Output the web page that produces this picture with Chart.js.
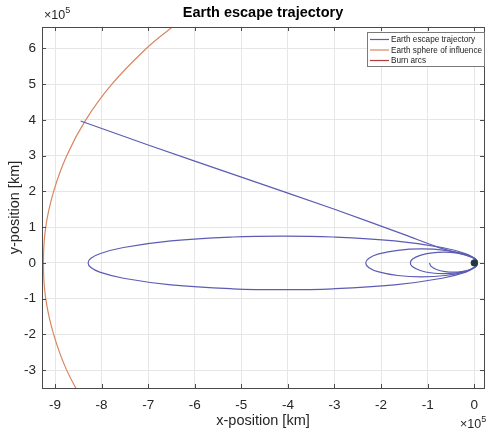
<!DOCTYPE html>
<html>
<head>
<meta charset="utf-8">
<script src="https://cdn.jsdelivr.net/npm/chart.js@4.4.1/dist/chart.umd.min.js"></script>
<style>
  html, body { margin: 0; padding: 0; background: #fff; }
</style>
</head>
<body>
<canvas id="graficoOrbita" width="489" height="436"></canvas>
<script>
// valores em unidades de 10^5 km
const orbitaInicialX = [-0.96, -0.93, -0.81, -0.62, -0.445, -0.27, -0.08, 0.02, 0.06, 0.07];
const orbitaInicialY = [0, -0.089, -0.184, -0.244, -0.26, -0.244, -0.184, -0.11, -0.045, 0];

const orbita1X = [0.07, 0.059, 0.027, -0.14, -0.40, -0.65, -0.90, -1.16, -1.33, -1.37, -1.33, -1.16, -0.90, -0.65, -0.40, -0.14, 0.027, 0.059, 0.07];
const orbita1Y = [0, 0.052, 0.103, 0.212, 0.282, 0.30, 0.282, 0.212, 0.103, 0, -0.103, -0.212, -0.282, -0.30, -0.282, -0.212, -0.103, -0.052, 0];

const orbita2X = [0.07, 0.052, -0.002, -0.21, -0.62, -1.13, -1.64, -2.05, -2.26, -2.33, -2.26, -2.05, -1.64, -1.13, -0.62, -0.21, -0.002, 0.052, 0.07];
const orbita2Y = [0, 0.068, 0.133, 0.251, 0.353, 0.39, 0.353, 0.251, 0.133, 0, -0.133, -0.251, -0.353, -0.39, -0.353, -0.251, -0.133, -0.068, 0];

const orbita3X = [0.07, 0.054, 0.007, -0.18, -0.69, -1.71, -3.03, -4.11, -5.19, -6.51, -7.53, -8.04, -8.23, -8.29, -8.23, -8.04, -7.53, -6.51, -5.19, -4.11, -3.03, -1.71, -0.69, -0.18, 0.007, 0.054, 0.07];
const orbita3Y = [0, 0.065, 0.130, 0.257, 0.430, 0.614, 0.724, 0.75, 0.724, 0.614, 0.430, 0.257, 0.130, 0, -0.130, -0.257, -0.430, -0.614, -0.724, -0.75, -0.724, -0.614, -0.430, -0.257, -0.130, -0.065, 0];

const fugaX = [0.07, 0.05, 0.0, -0.15, -0.4, -0.8, -1.5, -3.0, -5.0, -7.0, -8.45];
const fugaY = [0, 0.07, 0.13, 0.2, 0.29, 0.45, 0.79, 1.50, 2.40, 3.30, 3.97];

const esferaX = [-6.07, -6.48, -7.04, -7.78, -8.34, -8.75, -9.03, -9.20, -9.25, -9.20, -9.03, -8.75, -8.34];
const esferaY = [7, 6.6, 6, 5, 4, 3, 2, 1, 0, -1, -2, -3, -4];

const queimaX = [0.04, 0.065, 0.07, 0.065, 0.04];
const queimaY = [-0.08, -0.04, 0, 0.04, 0.08];

const terraX = [0];
const terraY = [0];

const legendas = ["Earth escape trajectory", "Earth sphere of influence", "Burn arcs"];
const corTrajetoria = "#5c5cb4";
const corEsfera = "#d9865f";
const corQueima = "#b23a3a";
const fonte = "'Liberation Sans', Arial, sans-serif";

function pontos(xs, ys) {
  return xs.map((x, i) => ({ x: x, y: ys[i] }));
}

function linha(label, xs, ys, cor, tensao) {
  return {
    label: label,
    data: pontos(xs, ys),
    showLine: true,
    borderColor: cor,
    borderWidth: 1.2,
    pointRadius: 0,
    tension: tensao,
    fill: false,
  };
}

const molduraPlugin = {
  id: "moldura",
  afterDraw(chart) {
    const ctx = chart.ctx;
    const a = chart.chartArea;
    const sx = chart.scales.x;
    const sy = chart.scales.y;
    ctx.save();
    ctx.strokeStyle = "#4a4a4a";
    ctx.lineWidth = 1;
    ctx.beginPath();
    sx.ticks.forEach((t) => {
      const px = Math.round(sx.getPixelForValue(t.value)) + 0.5;
      ctx.moveTo(px, a.bottom); ctx.lineTo(px, a.bottom - 4);
      ctx.moveTo(px, a.top); ctx.lineTo(px, a.top + 4);
    });
    sy.ticks.forEach((t) => {
      const py = Math.round(sy.getPixelForValue(t.value)) + 0.5;
      ctx.moveTo(a.left, py); ctx.lineTo(a.left + 4, py);
      ctx.moveTo(a.right, py); ctx.lineTo(a.right - 4, py);
    });
    ctx.stroke();
    ctx.strokeRect(Math.round(a.left) + 0.5, Math.round(a.top) + 0.5, Math.round(a.right - a.left), Math.round(a.bottom - a.top));

    // titulo
    ctx.fillStyle = "#000";
    ctx.font = "bold 14.5px " + fonte;
    ctx.textAlign = "center";
    ctx.textBaseline = "middle";
    ctx.fillText("Earth escape trajectory", (a.left + a.right) / 2, 13);

    // multiplicadores x10^5
    function multiplicador(x, y) {
      ctx.fillStyle = "#262626";
      ctx.textAlign = "left";
      ctx.textBaseline = "alphabetic";
      ctx.font = "12.5px " + fonte;
      ctx.fillText("\u00d710", x, y);
      const w = ctx.measureText("\u00d710").width;
      ctx.font = "9px " + fonte;
      ctx.fillText("5", x + w, y - 6);
    }
    multiplicador(44, 19);
    multiplicador(460, 428);

    // legenda
    const lx = 367, ly = 32, lw = 117, lh = 34;
    ctx.fillStyle = "#fff";
    ctx.fillRect(lx, ly, lw, lh);
    ctx.strokeStyle = "#7a7a7a";
    ctx.strokeRect(lx + 0.5, ly + 0.5, lw, lh);
    const cores = [corTrajetoria, corEsfera, corQueima];
    ctx.font = "8.2px " + fonte;
    ctx.textBaseline = "middle";
    ctx.textAlign = "left";
    legendas.forEach((txt, i) => {
      const yy = ly + 7.5 + i * 10.5;
      ctx.strokeStyle = cores[i];
      ctx.lineWidth = 1.2;
      ctx.beginPath();
      ctx.moveTo(lx + 3, yy);
      ctx.lineTo(lx + 22, yy);
      ctx.stroke();
      ctx.fillStyle = "#222";
      ctx.fillText(txt, lx + 24, yy + 0.5);
    });
    ctx.restore();
  },
};

const graficoOrbita = new Chart(document.getElementById("graficoOrbita"), {
  type: "scatter",
  data: {
    datasets: [
      {
        label: "Earth",
        data: pontos(terraX, terraY),
        pointRadius: 3.2,
        pointBackgroundColor: "#1d3b3b",
        pointBorderColor: "#1d3b3b",
        showLine: false,
      },
      linha(legendas[2], queimaX, queimaY, corQueima, 0.4),
      linha(legendas[0], fugaX, fugaY, corTrajetoria, 0.3),
      linha(legendas[0], orbita3X, orbita3Y, corTrajetoria, 0.4),
      linha(legendas[0], orbita2X, orbita2Y, corTrajetoria, 0.4),
      linha(legendas[0], orbita1X, orbita1Y, corTrajetoria, 0.4),
      linha(legendas[0], orbitaInicialX, orbitaInicialY, corTrajetoria, 0.4),
      linha(legendas[1], esferaX, esferaY, corEsfera, 0.4),
    ],
  },
  options: {
    responsive: false,
    animation: false,
    layout: { padding: { top: 27, right: 4, left: 0, bottom: 0 } },
    plugins: {
      legend: { display: false },
      title: { display: false },
      tooltip: { enabled: false },
    },
    scales: {
      x: {
        type: "linear",
        min: -9.28,
        max: 0.21,
        afterFit(scale) { scale.height = 48; },
        ticks: {
          stepSize: 1,
          includeBounds: false,
          padding: 9,
          color: "#262626",
          font: { family: fonte, size: 13.5 },
          maxRotation: 0,
        },
        grid: { color: "#e6e6e6", drawTicks: false },
        border: { display: false },
        title: {
          display: true,
          text: "x-position [km]",
          color: "#262626",
          font: { family: fonte, size: 14.5 },
          padding: { top: 0, bottom: 6 },
        },
      },
      y: {
        type: "linear",
        min: -3.5,
        max: 6.6,
        afterFit(scale) { scale.width = 42; },
        ticks: {
          stepSize: 1,
          includeBounds: false,
          padding: 6,
          color: "#262626",
          font: { family: fonte, size: 13.5 },
        },
        grid: { color: "#e6e6e6", drawTicks: false },
        border: { display: false },
        title: {
          display: true,
          text: "y-position [km]",
          color: "#262626",
          font: { family: fonte, size: 14.5 },
          padding: { top: 6, bottom: 0 },
        },
      },
    },
  },
  plugins: [molduraPlugin],
});
</script>
</body>
</html>
